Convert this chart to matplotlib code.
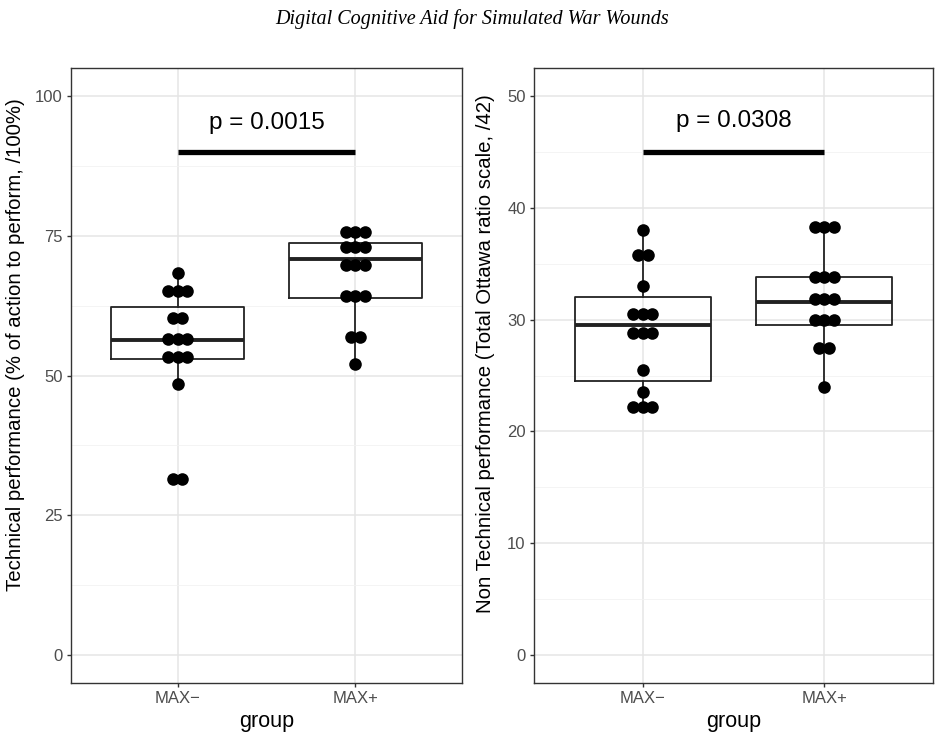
import numpy as np
import matplotlib
matplotlib.use("Agg")
import matplotlib.pyplot as plt

plt.rcParams['font.family'] = ['Liberation Sans', 'DejaVu Sans']

groups = ["MAX\u2212", "MAX+"]

# technical performance, dot values (binned as drawn)
tech_minus = [68.4, 65.2, 65.2, 65.2, 60.3, 60.3, 56.6, 56.6, 56.6,
              53.3, 53.3, 53.3, 48.4, 31.5, 31.5]
tech_plus = [75.7, 75.7, 75.7, 72.9, 72.9, 72.9, 69.8, 69.8, 69.8,
             64.2, 64.2, 64.2, 56.8, 56.8, 52.0]
# box stats: low whisker, q1, median, q3, high whisker
tech_box = [[48.4, 53.0, 56.4, 62.2, 68.4],
            [52.0, 63.8, 70.8, 73.7, 75.7]]

# non technical performance
ntech_minus = [38.0, 35.8, 35.8, 33.0, 30.5, 30.5, 30.5, 28.8, 28.8, 28.8,
               25.5, 23.5, 22.2, 22.2, 22.2]
ntech_plus = [38.3, 38.3, 38.3, 33.8, 33.8, 33.8, 31.8, 31.8, 31.8,
              30.0, 30.0, 30.0, 27.5, 27.5, 24.0]
ntech_box = [[22.2, 24.5, 29.5, 32.0, 38.0],
             [24.0, 29.5, 31.6, 33.8, 38.3]]

panels = [
    dict(data=[tech_minus, tech_plus], box=tech_box, ymax=100, yticks=[0, 25, 50, 75, 100],
         bar_y=90, p_y=95.2, p="p = 0.0015", lab_xy=(-0.118, 0.55),
         ylabel="Technical performance (% of action to perform, /100%)"),
    dict(data=[ntech_minus, ntech_plus], box=ntech_box, ymax=50, yticks=[0, 10, 20, 30, 40, 50],
         bar_y=45, p_y=47.8, p="p = 0.0308", lab_xy=(-0.098, 0.535),
         ylabel="Non Technical performance (Total Ottawa ratio scale, /42)"),
]

fig = plt.figure(figsize=(9.45, 7.4), dpi=100)
axes = [fig.add_axes([0.0751, 0.077, 0.4138, 0.8311]),
        fig.add_axes([0.5651, 0.077, 0.4222, 0.8311])]

dot_w = 0.053  # dot spacing in x data units

for ax, pn in zip(axes, panels):
    ymax = pn["ymax"]
    ax.set_xlim(0.4, 2.6)
    ax.set_ylim(-0.05 * ymax, 1.05 * ymax)
    ax.set_yticks(pn["yticks"])
    minor = [(a + b) / 2 for a, b in zip(pn["yticks"][:-1], pn["yticks"][1:])]
    ax.set_yticks(minor, minor=True)
    ax.set_xticks([1, 2])
    ax.set_xticklabels(groups)
    ax.grid(True, which="major", color="#e5e5e5", lw=1.1)
    ax.grid(True, which="minor", axis="y", color="#f2f2f2", lw=0.6)
    ax.set_axisbelow(True)
    ax.tick_params(which="minor", length=0)
    ax.tick_params(which="major", length=3, width=1, color="#333333",
                   labelsize=12, labelcolor="#4d4d4d", pad=3)
    for s in ax.spines.values():
        s.set_color("#333333")
        s.set_linewidth(1.0)

    stats = []
    for b in pn["box"]:
        stats.append(dict(whislo=b[0], q1=b[1], med=b[2], q3=b[3], whishi=b[4], fliers=[]))
    ax.bxp(stats, positions=[1, 2], widths=0.75, showcaps=False,
           boxprops=dict(color="#222222", lw=1.3),
           whiskerprops=dict(color="#222222", lw=1.3),
           medianprops=dict(color="#222222", lw=2.8),
           manage_ticks=False, zorder=2)

    for gi, vals in enumerate(pn["data"]):
        vals = np.array(vals)
        uniq, counts = np.unique(vals, return_counts=True)
        for v, c in zip(uniq, counts):
            offs = (np.arange(c) - (c - 1) / 2) * dot_w
            ax.scatter(gi + 1 + offs, [v] * c, s=82, color="black", zorder=3, lw=0)

    ax.plot([1, 2], [pn["bar_y"], pn["bar_y"]], color="black", lw=3.8,
            solid_capstyle="butt", zorder=3)
    ax.text(1.5, pn["p_y"], pn["p"], ha="center", va="center", fontsize=17.5)
    ax.set_xlabel("group", fontsize=15.5, labelpad=3)
    ax.set_ylabel(pn["ylabel"], fontsize=14.7)
    ax.yaxis.set_label_coords(*pn["lab_xy"])

fig.text(0.4995, 0.974, "Digital Cognitive Aid for Simulated War Wounds",
         ha="center", va="center", fontsize=14.5, style="italic",
         family="Liberation Serif")

fig.savefig("out.png", dpi=100)
